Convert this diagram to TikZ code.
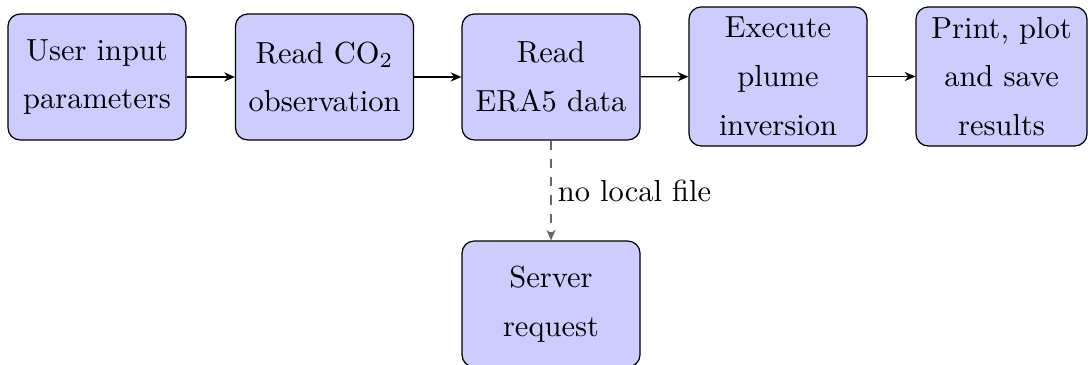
\documentclass[tikz,border=0pt]{standalone}
\usetikzlibrary{arrows.meta}
\begin{document}
\begin{tikzpicture}[x=0.328pt,y=-0.328pt,
  flowbox/.style={draw=black, fill=blue!20, rounded corners=4pt, align=center,
    font={\fontsize{10}{16}\selectfont}, minimum width=58.4pt, minimum height=41.3pt, inner sep=2pt},
  tallbox/.style={flowbox, minimum height=45.6pt},
  flowarrow/.style={-{Stealth[length=3.5pt,width=3pt]}, line width=0.4pt},
  optarrow/.style={-{Stealth[length=3.5pt,width=3pt]}, dashed, draw=black!60, line width=0.5pt}]
\useasboundingbox (0,0) rectangle (1088,365);
\node[flowbox] (user) at (97,77) {User input\\parameters};
\node[flowbox] (co2) at (324.5,77) {Read CO$_2$\\observation};
\node[flowbox] (era) at (551,77) {Read\\ERA5 data};
\node[tallbox] (inv) at (778,76.5) {Execute\\plume\\inversion};
\node[tallbox, minimum width=56.1pt] (out) at (1001.5,76.5) {Print, plot\\and save\\results};
\node[flowbox] (srv) at (551,304) {Server\\request};
\draw[flowarrow] (user) -- (co2);
\draw[flowarrow] (co2) -- (era);
\draw[flowarrow] (era) -- (inv);
\draw[flowarrow] (inv) -- (out);
\draw[optarrow] (era) -- node[right, font=\fontsize{10}{12}\selectfont, inner sep=2pt] (lbl) {no local file} (srv);
\end{tikzpicture}
\end{document}
